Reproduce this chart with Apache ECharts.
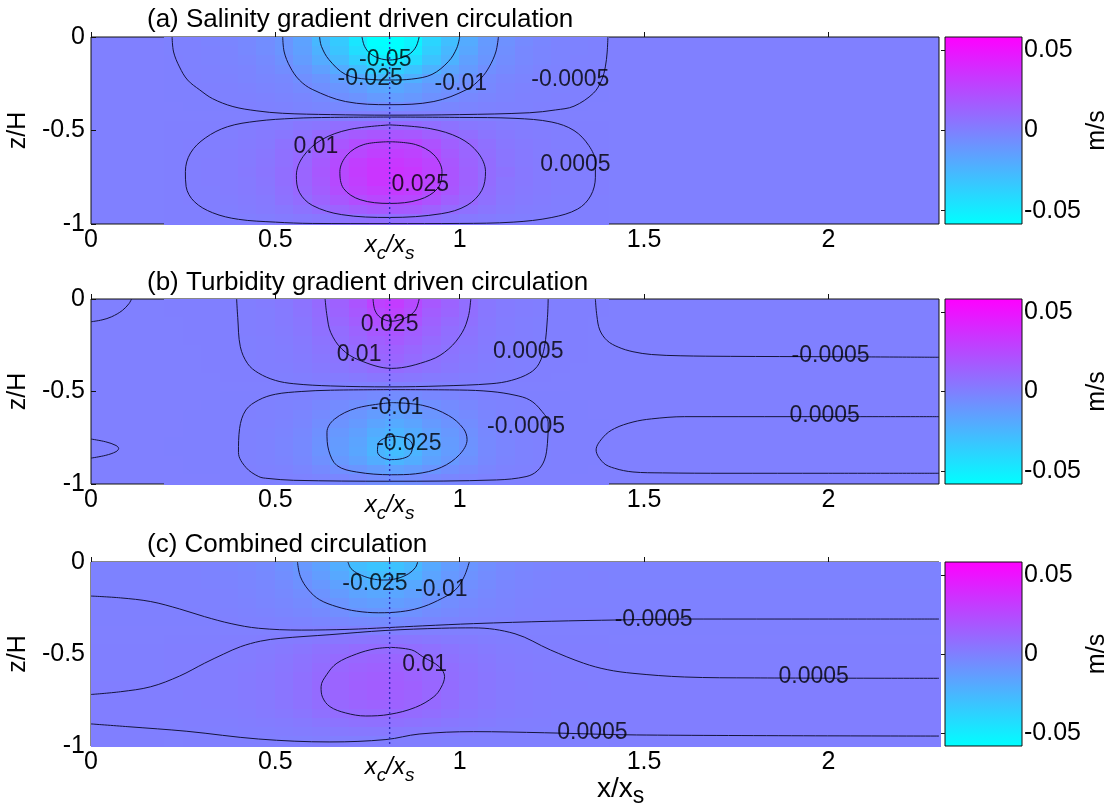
<!DOCTYPE html>
<html><head><meta charset="utf-8">
<script src="https://cdn.jsdelivr.net/npm/echarts@6/dist/echarts.min.js"></script>
<style>html,body{margin:0;padding:0;background:#fff}#c{width:1115px;height:810px}</style>
</head><body><div id="c"></div>
<script>
// ---------------- DATA ----------------
const panelTitles = ['(a) Salinity gradient driven circulation', '(b) Turbidity gradient driven circulation', '(c) Combined circulation'];
const xcRatio = 0.81;                       // x_c / x_s
const xLabelValues = [0, 0.5, xcRatio, 1, 1.5, 2];
const cbTickValues = [-0.05, 0, 0.05];
const cbMin = -0.0583, cbMax = 0.0583;

// heat-map cell centres (x/x_s, z/H); velocities in m/s
const xCells = [0.225,0.275,0.325,0.375,0.425,0.475,0.525,0.575,0.625,0.675,0.725,0.775,0.825,0.875,0.925,0.975,1.025,1.075,1.125,1.175,1.225,1.275,1.325,1.375];
const zCells = [-0.025,-0.075,-0.125,-0.175,-0.225,-0.275,-0.325,-0.375,-0.425,-0.475,-0.525,-0.575,-0.625,-0.675,-0.725,-0.775,-0.825,-0.875,-0.925,-0.975];

const velA = [
[-.0005,-.0008,-.0014,-.0024,-.004,-.006,-.010,-.016,-.026,-.034,-.047,-.061,-.063,-.053,-.039,-.029,-.020,-.012,-.008,-.005,-.0029,-.0017,-.0011,-.0006],
[-.0005,-.0008,-.0013,-.0022,-.004,-.006,-.010,-.015,-.023,-.032,-.043,-.056,-.058,-.049,-.036,-.026,-.018,-.011,-.007,-.004,-.0026,-.0016,-.001,-.0006],
[-.0004,-.0007,-.0011,-.0019,-.003,-.005,-.008,-.013,-.020,-.027,-.037,-.048,-.050,-.042,-.031,-.023,-.015,-.010,-.006,-.004,-.0023,-.0014,-.0009,-.0005],
[-.0003,-.0005,-.0008,-.0014,-.002,-.004,-.006,-.010,-.015,-.020,-.028,-.036,-.037,-.031,-.023,-.017,-.012,-.007,-.005,-.003,-.0017,-.001,-.0006,-.0004],
[-.0002,-.0003,-.0006,-.001,-.002,-.003,-.004,-.007,-.010,-.014,-.019,-.025,-.026,-.022,-.016,-.012,-.008,-.005,-.003,-.002,-.0012,-.0007,-.0004,-.0003],
[-.0001,-.0002,-.0004,-.0007,-.001,-.002,-.003,-.005,-.007,-.010,-.013,-.017,-.018,-.015,-.011,-.008,-.006,-.004,-.002,-.0013,-.0008,-.0005,-.0003,-.0002],
[-.0001,-.0002,-.0003,-.0005,-.0008,-.0013,-.002,-.003,-.005,-.007,-.009,-.012,-.013,-.011,-.008,-.006,-.004,-.0025,-.0016,-.0009,-.0006,-.0004,-.0002,-.0001],
[0,-.0001,-.0001,-.0002,-.0004,-.0006,-.001,-.002,-.003,-.004,-.005,-.006,-.006,-.005,-.004,-.003,-.002,-.0013,-.0008,-.0005,-.0003,-.0002,-.0001,0],
[0,0,0,0,0,0,0,0,0,0,0,0,0,0,0,0,0,0,0,0,0,0,0,0],
[.0001,.0002,.0003,.0005,.0008,.0014,.002,.004,.005,.008,.009,.010,.010,.010,.008,.006,.004,.003,.0017,.001,.0006,.0004,.0003,.0002],
[.0002,.0004,.0006,.0009,.0015,.0025,.004,.006,.010,.014,.017,.019,.019,.018,.015,.011,.008,.005,.003,.0018,.0011,.0007,.0005,.0003],
[.0003,.0005,.0008,.0013,.002,.003,.006,.009,.013,.019,.023,.026,.026,.025,.021,.015,.011,.007,.004,.0026,.0015,.0009,.0006,.0004],
[.0004,.0006,.0009,.0014,.0024,.004,.007,.010,.015,.022,.026,.029,.030,.028,.024,.017,.012,.008,.005,.003,.0017,.0011,.0007,.0005],
[.0004,.0007,.001,.0016,.0027,.0044,.007,.011,.017,.024,.030,.033,.033,.031,.027,.019,.013,.009,.005,.0032,.0019,.0012,.0008,.0005],
[.0004,.0007,.001,.0016,.0028,.0046,.008,.012,.018,.025,.031,.034,.035,.033,.028,.020,.014,.009,.006,.0034,.002,.0012,.0008,.0005],
[.0004,.0007,.001,.0016,.0027,.0045,.008,.012,.017,.025,.030,.034,.034,.032,.027,.020,.014,.009,.005,.0033,.002,.0012,.0008,.0005],
[.0004,.0006,.0009,.0015,.0025,.0041,.007,.011,.016,.023,.028,.031,.032,.030,.025,.019,.013,.008,.005,.0031,.0019,.0011,.0008,.0005],
[.0003,.0005,.0008,.0013,.002,.003,.006,.009,.013,.019,.023,.026,.026,.025,.021,.015,.011,.007,.004,.0026,.0015,.0009,.0006,.0004],
[.0002,.0004,.0005,.0008,.0014,.0023,.004,.006,.009,.013,.016,.018,.018,.017,.014,.010,.007,.005,.003,.0017,.001,.0006,.0004,.0003],
[.0001,.0002,.0002,.0004,.0007,.0011,.002,.003,.004,.006,.007,.008,.008,.008,.007,.005,.003,.002,.0013,.0008,.0005,.0003,.0002,.0001]
];
const velB = [
[.0001,.0001,.0002,.0004,.0007,.0015,.0029,.0056,.010,.014,.020,.028,.031,.025,.018,.013,.008,.004,.0022,.0011,.0006,.0003,.0002,.0001],
[.0001,.0001,.0002,.0003,.0007,.0013,.0026,.0051,.009,.013,.018,.025,.028,.023,.016,.012,.008,.004,.002,.001,.0005,.0003,.0001,.0001],
[0,.0001,.0001,.0003,.0006,.0012,.0023,.0044,.008,.011,.016,.022,.024,.020,.014,.010,.007,.0034,.0017,.0009,.0004,.0002,.0001,0],
[0,.0001,.0001,.0002,.0005,.001,.0019,.0037,.007,.009,.013,.018,.020,.016,.012,.008,.0055,.0029,.0014,.0007,.0004,.0002,.0001,0],
[0,.0001,.0001,.0002,.0004,.0008,.0016,.0031,.0056,.0078,.011,.015,.017,.014,.010,.007,.0046,.0024,.0012,.0006,.0003,.0002,.0001,0],
[0,0,.0001,.0002,.0003,.0007,.0013,.0025,.0047,.0065,.009,.013,.014,.011,.008,.0058,.0038,.002,.001,.0005,.0003,.0001,.0001,0],
[0,0,.0001,.0001,.0003,.0006,.0011,.0021,.0039,.0054,.0077,.011,.012,.0094,.0067,.0048,.0032,.0017,.0008,.0004,.0002,.0001,.0001,0],
[0,0,.0001,.0001,.0002,.0005,.0009,.0017,.0032,.0044,.0062,.0086,.0095,.0077,.0055,.0039,.0026,.0013,.0007,.0003,.0002,.0001,0,0],
[0,0,0,.0001,.0001,.0002,.0004,.0009,.0016,.0022,.0031,.0043,.0048,.0038,.0027,.002,.0013,.0007,.0003,.0002,.0001,0,0,0],
[0,0,0,0,0,0,0,0,0,0,0,0,0,0,0,0,0,0,0,0,0,0,0,0],
[0,0,0,-.0001,-.0001,-.0003,-.0005,-.0009,-.0017,-.0026,-.0035,-.0048,-.0056,-.0048,-.0035,-.0026,-.0017,-.0009,-.0005,-.0003,-.0001,-.0001,0,0],
[0,0,-.0001,-.0001,-.0003,-.0005,-.001,-.0018,-.0035,-.0052,-.0071,-.0096,-.0112,-.0096,-.0071,-.0052,-.0035,-.0018,-.001,-.0005,-.0003,-.0001,-.0001,0],
[0,-.0001,-.0001,-.0002,-.0004,-.0007,-.0013,-.0025,-.0048,-.0071,-.0097,-.0132,-.0154,-.0132,-.0097,-.0071,-.0048,-.0025,-.0013,-.0007,-.0004,-.0002,-.0001,0],
[0,-.0001,-.0001,-.0002,-.0005,-.0009,-.0017,-.0031,-.0061,-.009,-.0123,-.0169,-.0196,-.0169,-.0123,-.009,-.0061,-.0031,-.0017,-.0009,-.0005,-.0002,-.0001,-.0001],
[0,-.0001,-.0001,-.0003,-.0005,-.0011,-.002,-.0038,-.0074,-.011,-.015,-.0205,-.0238,-.0205,-.015,-.011,-.0074,-.0038,-.002,-.0011,-.0005,-.0003,-.0001,-.0001],
[-.0001,-.0001,-.0002,-.0003,-.0006,-.0012,-.0023,-.0043,-.0083,-.0124,-.0169,-.0231,-.0269,-.0231,-.0169,-.0124,-.0083,-.0043,-.0023,-.0012,-.0006,-.0003,-.0002,-.0001],
[-.0001,-.0001,-.0002,-.0003,-.0006,-.0013,-.0024,-.0045,-.0087,-.0129,-.0176,-.0241,-.028,-.0241,-.0176,-.0129,-.0087,-.0045,-.0024,-.0013,-.0006,-.0003,-.0002,-.0001],
[0,-.0001,-.0001,-.0003,-.0006,-.0011,-.0021,-.0039,-.0076,-.0112,-.0154,-.021,-.0244,-.021,-.0154,-.0112,-.0076,-.0039,-.0021,-.0011,-.0006,-.0003,-.0001,-.0001],
[0,-.0001,-.0001,-.0002,-.0004,-.0007,-.0013,-.0025,-.0048,-.0071,-.0097,-.0132,-.0154,-.0132,-.0097,-.0071,-.0048,-.0025,-.0013,-.0007,-.0004,-.0002,-.0001,0],
[0,0,0,-.0001,-.0002,-.0003,-.0006,-.0011,-.0022,-.0032,-.0044,-.006,-.007,-.006,-.0044,-.0032,-.0022,-.0011,-.0006,-.0003,-.0002,-.0001,0,0]
];
const velC = [
[-.0011,-.0013,-.0016,-.0023,-.0035,-.005,-.0075,-.011,-.0154,-.0214,-.028,-.0312,-.0304,-.0257,-.0188,-.0135,-.0097,-.0066,-.0044,-.0028,-.0019,-.0014,-.0012,-.0011],
[-.001,-.0011,-.0014,-.002,-.003,-.0044,-.0066,-.0096,-.0135,-.0187,-.0245,-.0273,-.0266,-.0226,-.0165,-.0118,-.0085,-.0058,-.0039,-.0025,-.0017,-.0012,-.001,-.0009],
[-.0008,-.0009,-.0011,-.0017,-.0025,-.0036,-.0054,-.0079,-.0111,-.0154,-.0202,-.0226,-.022,-.0186,-.0136,-.0098,-.007,-.0048,-.0032,-.002,-.0014,-.001,-.0009,-.0008],
[-.0006,-.0007,-.0009,-.0013,-.002,-.0029,-.0044,-.0064,-.0089,-.0124,-.0162,-.0181,-.0176,-.0149,-.0109,-.0078,-.0056,-.0038,-.0025,-.0016,-.0011,-.0008,-.0007,-.0006],
[-.0005,-.0006,-.0007,-.001,-.0016,-.0023,-.0034,-.0049,-.0069,-.0096,-.0125,-.014,-.0136,-.0116,-.0085,-.0061,-.0044,-.003,-.002,-.0013,-.0009,-.0006,-.0005,-.0005],
[-.0003,-.0004,-.0005,-.0007,-.0011,-.0016,-.0024,-.0035,-.0049,-.0067,-.0088,-.0098,-.0096,-.0081,-.0059,-.0043,-.0031,-.0021,-.0014,-.0009,-.0006,-.0004,-.0004,-.0003],
[-.0002,-.0002,-.0002,-.0004,-.0005,-.0008,-.0012,-.0017,-.0024,-.0033,-.0043,-.0048,-.0046,-.0039,-.0029,-.0021,-.0015,-.001,-.0007,-.0004,-.0003,-.0002,-.0002,-.0002],
[0,0,0,0,0,0,0,0,0,0,0,0,0,0,0,0,0,0,0,0,0,0,0,0],
[.0003,.0003,.0004,.0005,.0007,.001,.0015,.0022,.003,.0038,.0045,.0048,.0047,.0042,.0035,.0026,.0019,.0013,.0009,.0006,.0004,.0003,.0003,.0003],
[.0006,.0006,.0008,.001,.0014,.002,.003,.0043,.006,.0077,.0089,.0096,.0094,.0085,.0071,.0053,.0037,.0026,.0017,.0012,.0009,.0007,.0006,.0005],
[.0007,.0008,.001,.0012,.0018,.0026,.0038,.0055,.0077,.0098,.0113,.0122,.012,.0108,.009,.0067,.0048,.0033,.0022,.0016,.0011,.0009,.0007,.0007],
[.0008,.0009,.0011,.0014,.0021,.003,.0044,.0063,.0089,.0113,.0131,.014,.0138,.0125,.0104,.0078,.0055,.0038,.0025,.0018,.0013,.001,.0008,.0008],
[.0009,.001,.0012,.0016,.0023,.0033,.0048,.007,.0098,.0124,.0144,.0154,.0152,.0137,.0114,.0085,.006,.0042,.0028,.002,.0014,.0011,.0009,.0009],
[.001,.001,.0013,.0016,.0024,.0034,.005,.0072,.0101,.0128,.0149,.0159,.0157,.0142,.0118,.0088,.0062,.0043,.0029,.0021,.0014,.0011,.001,.0009],
[.0009,.001,.0012,.0015,.0023,.0032,.0047,.0068,.0096,.0122,.0141,.0151,.0149,.0135,.0112,.0084,.0059,.0041,.0027,.002,.0014,.0011,.0009,.0008],
[.0008,.0009,.0011,.0014,.002,.0029,.0042,.0061,.0086,.0109,.0126,.0135,.0133,.012,.01,.0075,.0053,.0037,.0024,.0018,.0012,.001,.0008,.0007],
[.0007,.0007,.0009,.0011,.0016,.0023,.0034,.0049,.0069,.0087,.0101,.0109,.0107,.0096,.008,.006,.0043,.0029,.002,.0014,.001,.0008,.0007,.0006],
[.0004,.0005,.0006,.0007,.0011,.0015,.0022,.0032,.0045,.0058,.0067,.0072,.0071,.0064,.0053,.004,.0028,.0019,.0013,.0009,.0006,.0005,.0004,.0004],
[.0002,.0002,.0003,.0004,.0005,.0007,.0011,.0016,.0022,.0028,.0033,.0035,.0034,.0031,.0026,.0019,.0014,.0009,.0006,.0005,.0003,.0002,.0002,.0002],
[0,.0001,.0001,.0001,.0001,.0002,.0002,.0004,.0005,.0006,.0007,.0008,.0008,.0007,.0006,.0004,.0003,.0002,.0001,.0001,.0001,.0001,0,0]
];
// far-field velocity of panel (c), one value per z row: left strip x<0.2, right strip x>1.4
const farLeftC  = [-.0012,-.0011,-.0009,-.0006,-.0004,-.0002,-.0001,0,0,.0001,.0002,.0003,.0004,.0005,.0006,.0007,.0007,.0006,.0003,.0001];
const farRightC = [-.0012,-.0011,-.001,-.0009,-.0008,-.0006,-.0004,-.0002,0,.0001,.0002,.0003,.0005,.0007,.0008,.0008,.0008,.0007,.0006,.0003];

// contour lines [x/x_s, z/H]
const cA_m05   = [[0.735,0],[0.742,-0.05],[0.757,-0.088],[0.78,-0.113],[0.81,-0.123],[0.84,-0.113],[0.866,-0.088],[0.882,-0.05],[0.89,0]];
const cA_m025  = [[0.62,0],[0.625,-0.05],[0.645,-0.12],[0.69,-0.2],[0.75,-0.226],[0.81,-0.23],[0.87,-0.225],[0.925,-0.2],[0.97,-0.13],[0.992,-0.06],[1.0,0]];
const cA_m01   = [[0.52,0],[0.524,-0.08],[0.54,-0.16],[0.565,-0.23],[0.6,-0.28],[0.69,-0.345],[0.81,-0.362],[0.93,-0.345],[1.02,-0.28],[1.058,-0.22],[1.08,-0.16],[1.098,-0.08],[1.105,0]];
const cA_m0005 = [[0.22,0],[0.224,-0.08],[0.24,-0.16],[0.262,-0.23],[0.295,-0.283],[0.33,-0.33],[0.385,-0.372],[0.45,-0.395],[0.52,-0.408],[0.65,-0.415],[0.81,-0.418],[1.0,-0.415],[1.19,-0.405],[1.26,-0.39],[1.31,-0.37],[1.363,-0.3],[1.385,-0.23],[1.395,-0.16],[1.4,-0.08],[1.402,0]];
const cA_p0005 = [[0.81,-0.428],[1.0,-0.43],[1.15,-0.435],[1.25,-0.455],[1.31,-0.5],[1.35,-0.58],[1.368,-0.67],[1.368,-0.75],[1.355,-0.85],[1.32,-0.92],[1.25,-0.965],[1.145,-0.99],[1.0,-0.997],[0.81,-0.998],[0.6,-0.997],[0.5,-0.99],[0.4,-0.975],[0.33,-0.94],[0.28,-0.88],[0.258,-0.8],[0.256,-0.72],[0.27,-0.62],[0.31,-0.54],[0.37,-0.48],[0.45,-0.45],[0.55,-0.435],[0.65,-0.43],[0.81,-0.428]];
const cA_p01   = [[0.81,-0.47],[0.92,-0.49],[1.0,-0.54],[1.05,-0.62],[1.07,-0.72],[1.06,-0.82],[1.02,-0.9],[0.95,-0.945],[0.81,-0.965],[0.68,-0.95],[0.6,-0.9],[0.565,-0.83],[0.557,-0.74],[0.575,-0.64],[0.625,-0.55],[0.7,-0.495],[0.81,-0.47]];
const cA_p025  = [[0.81,-0.56],[0.88,-0.575],[0.93,-0.63],[0.952,-0.72],[0.94,-0.81],[0.89,-0.87],[0.81,-0.89],[0.73,-0.87],[0.685,-0.81],[0.675,-0.72],[0.695,-0.63],[0.74,-0.575],[0.81,-0.56]];

const cB_p0005 = [[0.395,0],[0.398,-0.1],[0.405,-0.258],[0.425,-0.35],[0.454,-0.4],[0.5,-0.44],[0.55,-0.458],[0.65,-0.47],[0.81,-0.475],[0.95,-0.47],[1.085,-0.458],[1.14,-0.44],[1.19,-0.4],[1.215,-0.35],[1.23,-0.258],[1.238,-0.1],[1.24,0]];
const cB_p01   = [[0.635,0],[0.64,-0.09],[0.65,-0.18],[0.68,-0.27],[0.727,-0.33],[0.815,-0.375],[0.92,-0.33],[0.97,-0.27],[1.007,-0.18],[1.024,-0.09],[1.03,0]];
const cB_p025  = [[0.765,0],[0.77,-0.06],[0.785,-0.1],[0.815,-0.12],[0.855,-0.1],[0.88,-0.06],[0.89,0]];
const cB_m0005 = [[0.81,-0.49],[1.0,-0.492],[1.085,-0.5],[1.15,-0.52],[1.19,-0.546],[1.22,-0.6],[1.24,-0.67],[1.238,-0.78],[1.23,-0.87],[1.21,-0.93],[1.18,-0.96],[1.1,-0.978],[0.81,-0.985],[0.55,-0.98],[0.48,-0.97],[0.455,-0.96],[0.42,-0.91],[0.4,-0.83],[0.403,-0.7],[0.42,-0.6],[0.455,-0.546],[0.5,-0.515],[0.57,-0.5],[0.65,-0.493],[0.81,-0.49]];
const cB_m01   = [[0.815,-0.56],[0.9,-0.575],[0.97,-0.63],[1.01,-0.7],[1.02,-0.76],[1.0,-0.84],[0.95,-0.91],[0.88,-0.945],[0.815,-0.95],[0.72,-0.935],[0.667,-0.9],[0.645,-0.82],[0.64,-0.72],[0.66,-0.65],[0.72,-0.59],[0.815,-0.56]];
const cB_m025  = [[0.825,-0.742],[0.858,-0.755],[0.872,-0.79],[0.866,-0.84],[0.845,-0.862],[0.815,-0.868],[0.79,-0.857],[0.777,-0.825],[0.781,-0.775],[0.8,-0.75],[0.825,-0.742]];
const cB_edgeTop = [[0,-0.123],[0.03,-0.113],[0.056,-0.096],[0.085,-0.062],[0.103,-0.025],[0.11,0]];
const cB_edgeBot = [[0,-0.757],[0.04,-0.772],[0.068,-0.792],[0.075,-0.808],[0.068,-0.825],[0.04,-0.845],[0,-0.86]];
const cB_farTop  = [[1.368,0],[1.372,-0.09],[1.38,-0.168],[1.4,-0.225],[1.43,-0.26],[1.47,-0.285],[1.52,-0.3],[1.6,-0.307],[1.735,-0.31],[2.0,-0.312],[2.3,-0.315]];
const cB_farBot  = [[2.3,-0.636],[1.9,-0.636],[1.61,-0.636],[1.52,-0.648],[1.47,-0.665],[1.42,-0.7],[1.39,-0.745],[1.37,-0.816],[1.39,-0.886],[1.42,-0.915],[1.47,-0.935],[1.55,-0.94],[1.725,-0.942],[2.0,-0.942],[2.3,-0.942]];

const cC_m025  = [[0.697,0],[0.705,-0.035],[0.726,-0.065],[0.76,-0.09],[0.794,-0.098],[0.83,-0.09],[0.862,-0.063],[0.88,-0.03],[0.886,0]];
const cC_m01   = [[0.56,0],[0.568,-0.08],[0.59,-0.152],[0.62,-0.205],[0.667,-0.243],[0.72,-0.267],[0.78,-0.276],[0.84,-0.27],[0.89,-0.25],[0.94,-0.21],[0.988,-0.152],[1.012,-0.08],[1.026,0]];
const cC_m0005 = [[0,-0.185],[0.08,-0.195],[0.162,-0.215],[0.24,-0.255],[0.308,-0.297],[0.38,-0.335],[0.454,-0.36],[0.57,-0.37],[0.7,-0.366],[0.8,-0.357],[0.9,-0.347],[1.037,-0.335],[1.25,-0.322],[1.43,-0.315],[1.61,-0.31],[2.0,-0.31],[2.3,-0.31]];
const cC_p0005 = [[0,-0.72],[0.08,-0.705],[0.162,-0.678],[0.24,-0.62],[0.308,-0.55],[0.36,-0.5],[0.406,-0.46],[0.46,-0.43],[0.513,-0.415],[0.648,-0.395],[0.8,-0.372],[0.95,-0.36],[1.037,-0.358],[1.15,-0.39],[1.246,-0.478],[1.336,-0.55],[1.4,-0.585],[1.47,-0.605],[1.61,-0.625],[1.8,-0.63],[2.3,-0.632]];
const cC_p0005b = [[0,-0.88],[0.1,-0.895],[0.26,-0.92],[0.454,-0.962],[0.648,-0.978],[0.8,-0.965],[0.89,-0.935],[1.037,-0.922],[1.23,-0.928],[1.48,-0.94],[2.3,-0.946]];
const cC_p01   = [[0.813,-0.464],[0.87,-0.478],[0.9,-0.515],[0.945,-0.57],[0.959,-0.623],[0.95,-0.68],[0.93,-0.732],[0.88,-0.79],[0.81,-0.828],[0.745,-0.837],[0.69,-0.82],[0.648,-0.786],[0.628,-0.735],[0.624,-0.678],[0.64,-0.61],[0.667,-0.55],[0.72,-0.5],[0.77,-0.472],[0.813,-0.464]];

// contour labels [text, x/x_s, z/H]
const labelsA = [['-0.05',0.798,-0.123],['-0.025',0.757,-0.222],['-0.01',1.003,-0.25],['-0.0005',1.30,-0.23],['0.01',0.61,-0.588],['0.025',0.893,-0.79],['0.0005',1.314,-0.684]];
const labelsB = [['0.025',0.81,-0.14],['0.01',0.727,-0.30],['0.0005',1.186,-0.286],['-0.01',0.83,-0.59],['-0.0005',1.18,-0.69],['-0.025',0.862,-0.78],['-0.0005',2.006,-0.308],['0.0005',1.99,-0.632]];
const labelsC = [['-0.025',0.77,-0.115],['-0.01',0.95,-0.152],['0.01',0.905,-0.56],['-0.0005',1.526,-0.315],['0.0005',1.96,-0.625],['0.0005',1.36,-0.93]];

// ---------------- CHART ----------------
const fontFam = "'Liberation Sans', Arial, Helvetica, sans-serif";
const gridTops = [37, 299, 562];
const gridHeights = [187, 185, 184];
const titleTops = [7, 270, 532];
const heatArrays = [velA, velB, velC];
const farFields = [null, null, [farLeftC, farRightC]];
const contourSets = [
  [cA_m05, cA_m025, cA_m01, cA_m0005, cA_p0005, cA_p01, cA_p025],
  [cB_p0005, cB_p01, cB_p025, cB_m0005, cB_m01, cB_m025, cB_edgeTop, cB_edgeBot, cB_farTop, cB_farBot],
  [cC_m025, cC_m01, cC_m0005, cC_p0005, cC_p0005b, cC_p01]
];
const labelSets = [labelsA, labelsB, labelsC];
const halfCell = 0.025;

// data item: [x centre, z centre, velocity, half width in x]
function cellRender(params, api) {
  const x = api.value(0), z = api.value(1), hw = api.value(3);
  const p0 = api.coord([x - hw, z + halfCell]);
  const p1 = api.coord([x + hw, z - halfCell]);
  const x0 = Math.floor(p0[0]), y0 = Math.floor(p0[1]);
  return {
    type: 'rect',
    shape: { x: x0, y: y0, width: Math.ceil(p1[0]) - x0 + 1, height: Math.ceil(p1[1]) - y0 + 1 },
    style: { fill: api.visual('color') }
  };
}

const series = [];
const heatIdx = [];
for (let p = 0; p < 3; p++) {
  const data = [];
  if (farFields[p]) {
    zCells.forEach((z, j) => {
      data.push([0.1, z, farFields[p][0][j], 0.1]);
      data.push([1.85, z, farFields[p][1][j], 0.45]);
    });
  }
  zCells.forEach((z, j) => xCells.forEach((x, i) => data.push([x, z, heatArrays[p][j][i], halfCell])));
  heatIdx.push(series.length);
  series.push({ type: 'custom', xAxisIndex: p, yAxisIndex: p, data: data, renderItem: cellRender, z: 1, silent: true, encode: { x: 0, y: 1 } });
  contourSets[p].forEach(c => series.push({
    type: 'line', xAxisIndex: p, yAxisIndex: p, data: c, symbol: 'none', showSymbol: false,
    smooth: 0.35, lineStyle: { color: '#14143c', width: 1 }, z: 3, silent: true
  }));
  series.push({
    type: 'line', xAxisIndex: p, yAxisIndex: p, data: [[xcRatio, 0], [xcRatio, -1]], symbol: 'none',
    lineStyle: { color: '#2b2bb8', width: 1.4, type: [2, 3] }, z: 4, silent: true
  });
  series.push({
    type: 'scatter', xAxisIndex: p, yAxisIndex: p, symbolSize: 1, itemStyle: { color: 'rgba(0,0,0,0)' },
    data: labelSets[p].map(l => ({ name: l[0], value: [l[1], l[2]] })),
    label: { show: true, position: 'inside', formatter: '{b}', fontSize: 23, color: '#000', fontFamily: fontFam },
    z: 5, silent: true
  });
}

const grids = [], xAxes = [], yAxes = [];
for (let p = 0; p < 3; p++) {
  grids.push({ left: 91, top: gridTops[p], width: 848, height: gridHeights[p], show: true, backgroundColor: '#8080ff', borderColor: '#111', borderWidth: 1, containLabel: false, outerBoundsMode: 'none' });
  xAxes.push({
    gridIndex: p, type: 'value', min: 0, max: 2.3,
    axisLine: { show: false }, splitLine: { show: false },
    axisTick: { show: true, inside: true, length: 5, customValues: xLabelValues, lineStyle: { color: '#111' } },
    axisLabel: {
      customValues: xLabelValues, fontSize: 25, color: '#000', fontFamily: fontFam, margin: 4,
      formatter: v => Math.abs(v - xcRatio) < 1e-6 ? '{i|x}{s|c}{i|/x}{s|s}' : String(v),
      rich: {
        i: { fontSize: 24, fontStyle: 'italic', fontFamily: fontFam, color: '#000' },
        s: { fontSize: 19, fontStyle: 'italic', fontFamily: fontFam, color: '#000', padding: [16, 0, 0, 0] }
      }
    }
  });
  yAxes.push({
    gridIndex: p, type: 'value', min: -1, max: 0, interval: 0.5,
    axisLine: { show: false }, splitLine: { show: false },
    axisTick: { show: true, inside: true, length: 5, lineStyle: { color: '#111' } },
    axisLabel: { fontSize: 25, color: '#000', fontFamily: fontFam, margin: 6 },
    name: 'z/H', nameLocation: 'middle', nameRotate: 90, nameGap: 57,
    nameTextStyle: { fontSize: 25, color: '#000', fontFamily: fontFam }
  });
}
for (let p = 0; p < 3; p++) {
  grids.push({
    left: 945, top: gridTops[p], width: 77, height: gridHeights[p], show: true, borderColor: '#111', borderWidth: 1, containLabel: false, outerBoundsMode: 'none',
    backgroundColor: { type: 'linear', x: 0, y: 0, x2: 0, y2: 1, colorStops: [{ offset: 0, color: '#ff00ff' }, { offset: 1, color: '#00ffff' }] }
  });
  xAxes.push({ gridIndex: 3 + p, type: 'value', min: 0, max: 1, show: false });
  yAxes.push({
    gridIndex: 3 + p, type: 'value', position: 'right', min: cbMin, max: cbMax,
    axisLine: { show: false }, splitLine: { show: false },
    axisTick: { show: true, inside: true, length: 4, customValues: cbTickValues, lineStyle: { color: '#111' } },
    axisLabel: { customValues: cbTickValues, fontSize: 25, color: '#000', fontFamily: fontFam, margin: 2, formatter: v => String(v) },
    name: 'm/s', nameLocation: 'middle', nameRotate: 90, nameGap: 62,
    nameTextStyle: { fontSize: 25, color: '#000', fontFamily: fontFam }
  });
}

const chart = echarts.init(document.getElementById('c'), null, { renderer: 'canvas', width: 1115, height: 810 });
chart.setOption({
  backgroundColor: '#fff',
  animation: false,
  title: panelTitles.map((t, i) => ({ text: t, left: 147, top: titleTops[i], padding: 0, textStyle: { fontSize: 26, fontWeight: 'normal', color: '#000', fontFamily: fontFam } })),
  grid: grids, xAxis: xAxes, yAxis: yAxes,
  visualMap: { type: 'continuous', show: false, seriesIndex: heatIdx, dimension: 2, min: cbMin, max: cbMax, inRange: { color: ['#00ffff', '#ff00ff'] } },
  graphic: [{
    type: 'text', left: 597, top: 775,
    style: { text: '{a|x/x}{s|s}', rich: { a: { fontSize: 28, fontFamily: fontFam, fill: '#000', color: '#000' }, s: { fontSize: 23, fontFamily: fontFam, fill: '#000', color: '#000', padding: [16, 0, 0, 0] } } }
  }],
  series: series
});
</script></body></html>
